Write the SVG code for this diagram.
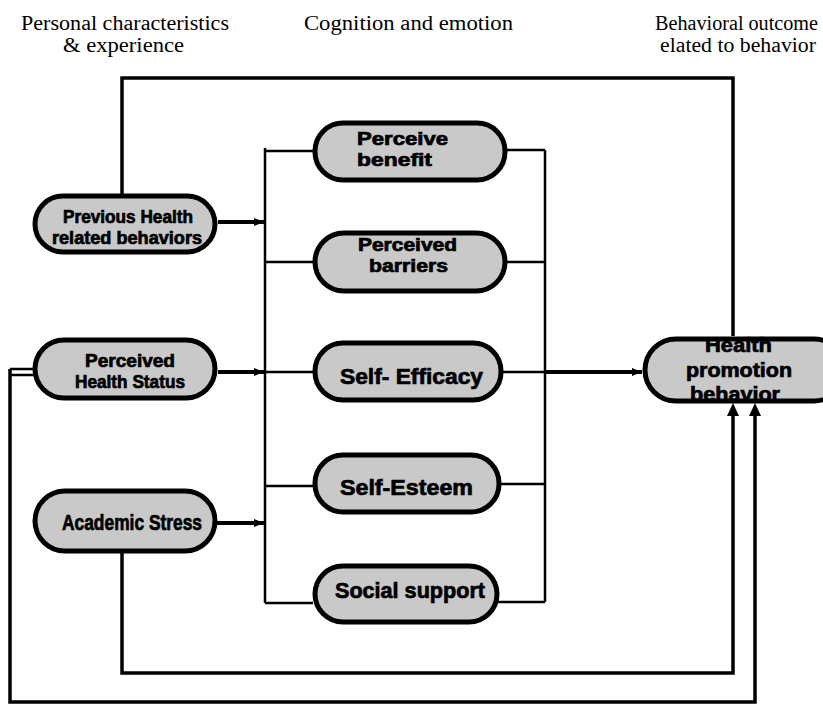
<svg xmlns="http://www.w3.org/2000/svg" width="823" height="704" viewBox="0 0 823 704">
<defs>
<marker id="ah" viewBox="0 0 10 10" refX="10" refY="5" markerWidth="10" markerHeight="10" markerUnits="userSpaceOnUse" orient="auto">
<path d="M0,1 L10,5 L0,9 Z" fill="#000"/>
</marker>
<style>
.hdr{font-family:"Liberation Serif",serif;font-size:20px;fill:#000}
.node rect{fill:#c9c9c9;stroke:#000;stroke-width:5}
.node text{font-family:"Liberation Sans",Arial,sans-serif;font-weight:bold;font-size:22px;fill:#000;stroke:#000;stroke-width:0.7;text-anchor:start}
.node text.two{font-size:18px}
.node text.three{font-size:20px}
.ln{fill:none;stroke:#000;stroke-width:2.5}
.th{fill:none;stroke:#000;stroke-width:3.5}
.ar{fill:none;stroke:#000;stroke-width:4;marker-end:url(#ah)}
</style>
</defs>
<rect width="823" height="704" fill="#fff"/>

<g id="headers">
<text class="hdr" x="21" y="30" textLength="208" lengthAdjust="spacingAndGlyphs">Personal characteristics</text>
<text class="hdr" x="63" y="52" textLength="121" lengthAdjust="spacingAndGlyphs">&amp; experience</text>
<text class="hdr" x="304" y="30" textLength="209" lengthAdjust="spacingAndGlyphs">Cognition and emotion</text>
<text class="hdr" x="655" y="30" textLength="163" lengthAdjust="spacingAndGlyphs">Behavioral outcome</text>
<text class="hdr" x="660" y="52" textLength="156" lengthAdjust="spacingAndGlyphs">elated to behavior</text>
</g>

<g id="connectors">
<path class="th" d="M122,195 V78 H733 V336"/>
<path class="ln" d="M265,148 V603"/>
<path class="ln" d="M265,151 H313 M265,262 H313 M265,372 H313 M265,486 H313 M265,603 H313"/>
<path class="ln" d="M545,150 V602"/>
<path class="ln" d="M505,150 H545 M505,262 H545 M500,372 H545 M500,484 H545 M498,602 H545"/>
<path class="ar" d="M218,222 H264"/>
<path class="ar" d="M218,372 H264"/>
<path class="ar" d="M217,523 H264"/>
<path class="ar" d="M545,372 H642"/>
<path class="th" d="M122,553 V673 H733 V414"/>
<path d="M727,416 L733,403 L739,416 Z" fill="#000"/>
<path class="ln" d="M10,369 H34 M10,375 H34"/>
<path class="th" d="M10,369 V702 H755 V414"/>
<path d="M749,416 L755,403 L761,416 Z" fill="#000"/>
</g>

<g id="n_prev" class="node">
<rect x="35" y="196" width="180" height="56" rx="28"/>
<text class="two" x="63" y="223" textLength="130" lengthAdjust="spacingAndGlyphs">Previous Health</text>
<text class="two" x="52" y="244" textLength="150" lengthAdjust="spacingAndGlyphs">related behaviors</text>
</g>

<g id="n_phs" class="node">
<rect x="35" y="340" width="180" height="58" rx="29"/>
<text class="two" x="85" y="367" textLength="90" lengthAdjust="spacingAndGlyphs">Perceived</text>
<text class="two" x="75" y="388" textLength="110" lengthAdjust="spacingAndGlyphs">Health Status</text>
</g>

<g id="n_acad" class="node">
<rect x="35" y="491" width="180" height="60" rx="30"/>
<text x="62" y="530" textLength="140" lengthAdjust="spacingAndGlyphs">Academic Stress</text>
</g>

<g id="n_benefit" class="node">
<rect x="315" y="123" width="190" height="57" rx="28"/>
<text class="two" x="357" y="145" textLength="91" lengthAdjust="spacingAndGlyphs">Perceive</text>
<text class="two" x="357" y="166" textLength="75" lengthAdjust="spacingAndGlyphs">benefit</text>
</g>

<g id="n_barriers" class="node">
<rect x="315" y="233" width="190" height="58" rx="29"/>
<text class="two" x="358" y="251" textLength="99" lengthAdjust="spacingAndGlyphs">Perceived</text>
<text class="two" x="369" y="272" textLength="79" lengthAdjust="spacingAndGlyphs">barriers</text>
</g>

<g id="n_efficacy" class="node">
<rect x="315" y="343" width="186" height="57" rx="28"/>
<text x="340" y="384" textLength="143" lengthAdjust="spacingAndGlyphs">Self- Efficacy</text>
</g>

<g id="n_esteem" class="node">
<rect x="315" y="455" width="184" height="57" rx="28"/>
<text x="340" y="495" textLength="133" lengthAdjust="spacingAndGlyphs">Self-Esteem</text>
</g>

<g id="n_social" class="node">
<rect x="315" y="566" width="182" height="56" rx="28"/>
<text x="335" y="598" textLength="150" lengthAdjust="spacingAndGlyphs">Social support</text>
</g>

<g id="n_health" class="node">
<rect x="645" y="339" width="200" height="62" rx="31"/>
<text class="three" x="705" y="352" textLength="67" lengthAdjust="spacingAndGlyphs">Health</text>
<text class="three" x="686" y="377" textLength="106" lengthAdjust="spacingAndGlyphs">promotion</text>
<text class="three" x="690" y="401" textLength="90" lengthAdjust="spacingAndGlyphs">behavior</text>
</g>
</svg>
